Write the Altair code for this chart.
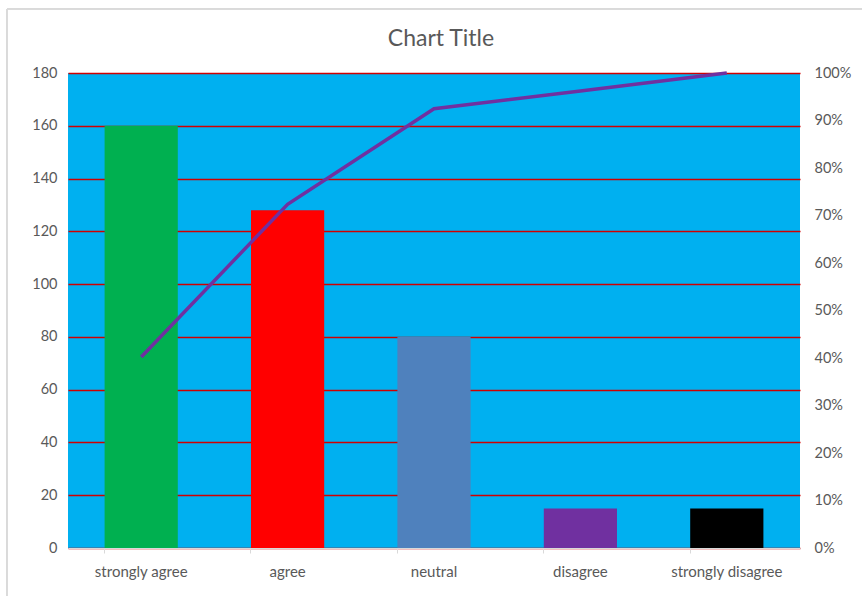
import altair as alt
import pandas as pd

categories = ["strongly agree", "agree", "neutral", "disagree", "strongly disagree"]
counts = [160, 128, 80, 15, 15]
bar_colors = ["#00B050", "#FF0000", "#4F81BD", "#7030A0", "#000000"]

total = sum(counts)
cum = []
running = 0
for c in counts:
    running += c
    cum.append(running / total)

df = pd.DataFrame({"category": categories, "count": counts, "cum": cum, "color": bar_colors})

FONT = "Lato"
GRAY = "#595959"

x_enc = alt.X(
    "category:N",
    sort=categories,
    title=None,
    scale=alt.Scale(paddingInner=0.5, paddingOuter=0.25),
    axis=alt.Axis(
        labelAngle=0,
        labelFontSize=15,
        labelColor=GRAY,
        labelPadding=11,
        domainColor="#D9D9D9",
        tickColor="#D9D9D9",
        tickSize=5,
        bandPosition=0,
        grid=False,
    ),
)

bars = alt.Chart(df).mark_bar().encode(
    x=x_enc,
    y=alt.Y(
        "count:Q",
        title=None,
        scale=alt.Scale(domain=[0, 180]),
        axis=alt.Axis(
            values=list(range(0, 181, 20)),
            labelFontSize=14.5,
            labelColor=GRAY,
            labelPadding=11,
            domain=False,
            ticks=False,
            grid=True,
            gridColor="#D00000",
            gridWidth=1.3,
        ),
    ),
    color=alt.Color("color:N", scale=None),
)

line = alt.Chart(df).mark_line(color="#7030A0", strokeWidth=3.5).encode(
    x=alt.X("category:N", sort=categories),
    y=alt.Y(
        "cum:Q",
        title=None,
        scale=alt.Scale(domain=[0, 1]),
        axis=alt.Axis(
            orient="right",
            format=".0%",
            values=[i / 10 for i in range(11)],
            labelFontSize=14.5,
            labelColor=GRAY,
            labelPadding=14,
            domain=False,
            ticks=False,
            grid=False,
        ),
    ),
)

frame = alt.Chart(df).mark_rect(fill=None, stroke="#D9D9D9", strokeWidth=1).encode(
    x=alt.value(-61), x2=alt.value(820), y=alt.value(-64), y2=alt.value(560)
)

chart = (
    alt.layer(bars, line, frame)
    .resolve_scale(y="independent")
    .properties(
        width=732,
        height=475,
        title=alt.TitleParams(
            "Chart Title",
            fontSize=23,
            font=FONT,
            fontWeight="normal",
            color=GRAY,
            anchor="middle",
            frame="group",
            offset=-42,
            dx=7,
        ),
        autosize=alt.AutoSizeParams(type="none"),
        padding={"left": 68, "top": 73, "right": 62, "bottom": 48},
    )
    .configure(font=FONT, background="white")
    .configure_view(fill="#00B0F0", stroke=None)
)

chart.save("out.html", embed_options={"renderer": "svg", "actions": False})
